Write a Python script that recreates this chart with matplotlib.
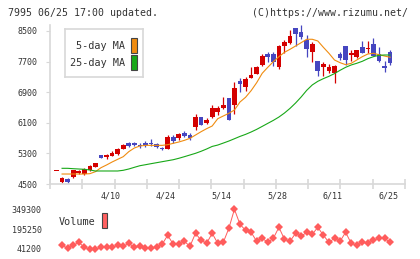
import numpy as np
import matplotlib
matplotlib.use('Agg')
import matplotlib.pyplot as plt
from matplotlib.patches import Rectangle

plt.rcParams['font.family'] = 'DejaVu Sans Mono'

# daily candles (index 0 is the doji at the left edge)
opens = [4850, 4540, 4620, 4690, 4780, 4760, 4860, 4955, 5260, 5210,
         5230, 5280, 5420, 5560, 5560, 5520, 5580, 5580, 5550, 5450,
         5420, 5740, 5690, 5830, 5790, 5980, 6240, 6090, 6260, 6390,
         6480, 6750, 6570, 7180, 7030, 7280, 7380, 7610, 7900, 7900,
         7570, 8110, 8180, 8580, 8470, 8260, 7950, 7710, 7550, 7460,
         7390, 7910, 8110, 7880, 7810, 8070, 8020, 8160, 7900, 7590,
         7950]
closes = [4850, 4650, 4550, 4860, 4830, 4900, 4980, 5050, 5190, 5250,
          5320, 5420, 5510, 5500, 5530, 5490, 5520, 5550, 5470, 5410,
          5740, 5630, 5810, 5760, 5690, 6240, 6050, 6170, 6480, 6480,
          6570, 6170, 7000, 7110, 7240, 7350, 7570, 7850, 7830, 7680,
          8110, 8210, 8370, 8420, 8350, 8040, 8160, 7460, 7640, 7570,
          7590, 7790, 7740, 7930, 8000, 7930, 8050, 7850, 7720, 7520,
          7650]
highs = [4850, 4670, 4650, 4870, 4870, 4920, 5000, 5060, 5260, 5280,
         5360, 5430, 5540, 5600, 5590, 5580, 5630, 5670, 5560, 5470,
         5780, 5790, 5820, 5890, 5820, 6340, 6250, 6230, 6560, 6530,
         6770, 6750, 7160, 7260, 7300, 7570, 7590, 7900, 7940, 7940,
         8130, 8260, 8520, 8590, 8650, 8390, 8210, 7720, 7680, 7640,
         7600, 7950, 8110, 8000, 8010, 8230, 8230, 8320, 8090, 7710,
         8000]
lows = [4850, 4530, 4530, 4660, 4750, 4740, 4850, 4950, 5190, 5160,
        5220, 5270, 5410, 5460, 5500, 5450, 5480, 5500, 5450, 5390,
        5410, 5580, 5650, 5720, 5660, 5920, 6040, 6070, 6230, 6310,
        6450, 6170, 6330, 6910, 6920, 7260, 7370, 7590, 7680, 7580,
        7510, 7920, 8150, 8100, 8280, 7830, 7700, 7320, 7320, 7410,
        7130, 7740, 7620, 7720, 7800, 7930, 7920, 7850, 7690, 7430,
        7600]

# moving averages and volume for days 1..60
ma5 = [4761, 4761, 4761, 4761, 4761, 4770, 4822, 4926, 4997, 5075,
       5145, 5214, 5345, 5441, 5493, 5510, 5510, 5510, 5510, 5528,
       5563, 5598, 5641, 5693, 5780, 5867, 5946, 6016, 6207, 6278,
       6348, 6434, 6643, 6766, 6939, 7148, 7394, 7550, 7697, 7828,
       7943, 8021, 8107, 8194, 8283, 8283, 8238, 8073, 7916, 7741,
       7671, 7619, 7654, 7741, 7828, 7898, 7916, 7880, 7845, 7812]
ma25 = [4910, 4910, 4900, 4892, 4884, 4866, 4840, 4840, 4840, 4840,
        4840, 4858, 4892, 4936, 4978, 5004, 5031, 5057, 5083, 5109,
        5135, 5172, 5214, 5258, 5302, 5355, 5415, 5482, 5518, 5570,
        5623, 5683, 5744, 5797, 5859, 5928, 6006, 6085, 6163, 6250,
        6355, 6477, 6617, 6774, 6948, 7089, 7184, 7254, 7315, 7386,
        7472, 7550, 7611, 7655, 7707, 7776, 7828, 7864, 7872, 7872]
volume = [69900, 46600, 69900, 93200, 54400, 38900, 38900, 54400, 54400, 54400,
          69900, 62100, 85400, 54400, 62100, 46600, 46600, 54400, 77700, 147500,
          77700, 77700, 101000, 62100, 163000, 108700, 85400, 163000, 85400, 93200,
          201900, 349300, 232900, 186300, 170800, 101000, 124200, 93200, 124200, 209600,
          116500, 101000, 163000, 139800, 170800, 155300, 209600, 147500, 93200, 124200,
          101000, 170800, 85400, 69900, 93200, 85400, 108700, 124200, 124200, 93200]

price_ticks = [4500, 5300, 6100, 6900, 7700, 8500]
date_pos = [10, 20, 30, 40, 50, 60]
date_labels = ['4/10', '4/24', '5/14', '5/28', '6/11', '6/25']
vol_ticks = [41200, 195250, 349300]

W, H = 420, 259
fig = plt.figure(figsize=(W / 100, H / 100), dpi=100)

RED = '#d40000'
BLUE = '#4646c0'
GRAY = '#d8d8d8'
TXT = '#333333'

x0, x1 = -1.17, 62.68

ax = fig.add_axes([50 / W, (H - 184) / H, 355 / W, 159 / H])
ax.set_xlim(x0, x1)
ax.set_ylim(4500, 8656)

for i in range(len(opens)):
    o, c = opens[i], closes[i]
    col = RED if c >= o else BLUE
    ax.vlines(i, lows[i], highs[i], color=col, lw=0.9)
    h = max(abs(c - o), 25)
    ax.add_patch(Rectangle((i - 0.42, min(o, c)), 0.84, h, color=col, lw=0))

days = np.arange(1, 61)
ax.plot(days, ma5, color='#f08c10', lw=0.8)
ax.plot(days, ma25, color='#18a818', lw=0.8)

for s in ['top', 'right']:
    ax.spines[s].set_visible(False)
for s in ['left', 'bottom']:
    ax.spines[s].set_color(GRAY)
    ax.spines[s].set_linewidth(1.2)
ax.set_yticks(price_ticks)
ax.set_yticklabels([str(v) for v in price_ticks])
ax.set_xticks(np.linspace(x0, x1, 12))
ax.set_xticklabels([])
ax.tick_params(axis='y', colors=GRAY, labelcolor=TXT, labelsize=6, length=3, pad=6)
ax.tick_params(axis='x', colors=GRAY, direction='inout', length=7, width=1.2)
for p, lab in zip(date_pos, date_labels):
    ax.text(p - 0.3, 4500 - 12 * 26.14, lab, ha='center', va='center',
            fontsize=6, color=TXT, clip_on=False)

# legend box
leg = fig.add_axes([65 / W, (H - 77) / H, 78 / W, 48 / H])
leg.set_xlim(0, 78)
leg.set_ylim(48, 0)
leg.set_xticks([])
leg.set_yticks([])
for s in leg.spines.values():
    s.set_color(GRAY)
    s.set_linewidth(1.2)
leg.text(60, 17, '5-day MA', ha='right', va='center', fontsize=7.3, color=TXT)
leg.text(60, 34, '25-day MA', ha='right', va='center', fontsize=7.3, color=TXT)
leg.add_patch(Rectangle((66, 9), 5.5, 15, facecolor='#f08c10', edgecolor='#444444', lw=0.8))
leg.add_patch(Rectangle((66, 26), 5.5, 15, facecolor='#18a818', edgecolor='#444444', lw=0.8))

# volume panel
vax = fig.add_axes([50 / W, (H - 249) / H, 355 / W, 39.7 / H])
vax.set_xlim(x0, x1)
vax.set_ylim(41200, 349300)
vax.plot(days, volume, color='#ff5c5c', lw=0.7, marker='D', ms=3.8,
         markeredgewidth=0, clip_on=False)
for s in vax.spines.values():
    s.set_visible(False)
vax.set_xticks([])
vax.set_yticks(vol_ticks)
vax.set_yticklabels([str(v) for v in vol_ticks])
vax.tick_params(axis='y', length=0, labelsize=6, labelcolor=TXT, pad=6)
fig.text(58.5 / W, 1 - 222.3 / H, 'Volume', ha='left', va='center', fontsize=7.3, color=TXT)
fig.patches.append(Rectangle((101.7 / W, 1 - 228.3 / H), 5.6 / W, 15.3 / H,
                             transform=fig.transFigure, facecolor='#ff6060',
                             edgecolor='#444444', lw=0.8))

fig.text(8 / W, 1 - 13.3 / H, '7995 06/25 17:00 updated.', ha='left', va='center',
         fontsize=7.1, color=TXT)
fig.text(408 / W, 1 - 13.3 / H, '(C)https://www.rizumu.net/', ha='right', va='center',
         fontsize=7.1, color=TXT)

fig.savefig('out.png', dpi=100)
